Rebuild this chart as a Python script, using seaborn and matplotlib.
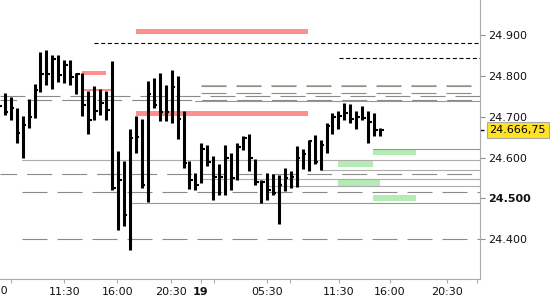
import matplotlib
matplotlib.use("Agg")
import matplotlib.pyplot as plt
import seaborn as sns
import pandas as pd

# ---------------- data (30-minute OHLC bars, bar index as x) ----------------
bar_idx = list(range(-1, 64))
highs = [24740.7, 24758.5, 24748.7, 24721.2, 24701.7, 24742.4, 24779.7, 24858.5, 24862.6,
         24850.5, 24850.5, 24838.3, 24838.3, 24805.8, 24805.8, 24763.4, 24774.8, 24767.5,
         24763.4, 24835.8, 24616.3, 24592.6, 24670.0, 24701.7, 24694.4, 24787.0, 24793.6,
         24806.6, 24777.3, 24813.9, 24799.2, 24713.9, 24591.9, 24561.9, 24635.1, 24630.9,
         24604.1, 24584.6, 24630.9, 24610.7, 24635.1, 24652.9, 24657.0, 24596.8, 24545.6,
         24561.9, 24559.5, 24557.8, 24574.1, 24567.5, 24628.5, 24621.2, 24643.1, 24655.3,
         24643.1, 24683.9, 24708.3, 24713.9, 24734.1, 24730.9, 24713.9, 24726.1, 24713.9,
         24709.7, 24671.7]
lows = [24711.4, 24704.1, 24691.9, 24636.6, 24600.0, 24671.7, 24696.8, 24759.5, 24777.3,
        24766.8, 24785.3, 24782.2, 24777.3, 24755.3, 24701.7, 24656.6, 24691.9, 24704.1,
        24691.9, 24521.2, 24423.6, 24433.4, 24373.1, 24612.2, 24525.3, 24490.2, 24720.5,
        24690.2, 24690.2, 24683.9, 24644.9, 24574.1, 24522.9, 24521.2, 24537.5, 24580.5,
        24495.1, 24507.3, 24507.3, 24521.2, 24545.6, 24618.7, 24568.3, 24531.7, 24488.7,
        24495.1, 24509.0, 24438.3, 24518.8, 24526.8, 24527.8, 24571.7, 24568.3, 24584.6,
        24570.0, 24612.2, 24657.8, 24669.2, 24691.9, 24685.3, 24669.2, 24691.9, 24636.6,
        24653.6, 24653.6]
closes = [24726.1, 24712.2, 24721.2, 24660.2, 24679.7, 24699.2, 24765.1, 24803.4, 24803.4,
          24840.0, 24801.7, 24826.1, 24797.5, 24803.4, 24728.5, 24691.9, 24713.9, 24732.2,
          24716.3, 24525.0, 24545.6, 24458.5, 24648.0, 24651.2, 24533.4, 24754.6, 24728.5,
          24712.2, 24712.2, 24773.1, 24694.4, 24586.3, 24545.6, 24531.7, 24620.5, 24590.2,
          24553.6, 24553.6, 24598.5, 24549.7, 24626.8, 24647.3, 24598.5, 24541.4, 24541.4,
          24521.2, 24513.1, 24533.4, 24551.2, 24553.6, 24598.5, 24608.3, 24640.7, 24590.2,
          24630.9, 24677.3, 24700.0, 24701.7, 24708.3, 24693.6, 24698.5, 24696.1, 24687.8,
          24667.5, 24666.75]
last_price = 24666.75
last_label = "24.666,75"

# x axis ticks (bar index positions) and labels
xtick_pos = [1.0, 10.0, 18.9, 27.9, 32.9, 35.2, 44.0, 47.9, 56.1, 64.6, 74.2, 79.2]
xtick_labels = ["", "11:30", "16:00", "20:30", "19", "", "05:30", "", "11:30", "16:00", "20:30", ""]
cut_label, cut_label_pos = "05:30", -2.13
ytick_vals = [24400, 24500, 24600, 24700, 24800, 24900]

XMIN, XMAX = -0.79, 79.75
YMIN, YMAX = 24303.4, 24984.6

# gray long-dash levels: price, start index, dash offset (pt)
gdash_price = [24750.0, 24740.7, 24774.1, 24757.0, 24559.5, 24517.0, 24401.0]
gdash_start = [XMIN, XMIN, 32.94, 32.94, XMIN, 2.85, 2.85]
gdash_offset = [0, 6, 0, 0, 6, 0, 0]
# orange level
orange_price, orange_start = 24776.6, 32.94
# solid gray levels
gsolid_price = [24593.6, 24569.2, 24546.8, 24530.5]
gsolid_start = [2.85, 53.02, 32.94, 44.01]
# thin green levels
green_price = [24737.5, 24488.7, 24621.2]
green_start = [31.93, 21.03, 61.8]
# black short-dash levels
black_price = [24879.0, 24842.4]
black_start = [14.98, 56.14]
# red zones: price centre, start, end, thickness
red_price = [24906.6, 24806.6, 24764.1, 24708.3]
red_start = [22.03, 12.97, 13.3, 22.03]
red_end = [50.89, 16.96, 17.8, 50.89]
red_thick = [12, 10, 5, 12]
# green zones
gz_price = [24612.7, 24585.3, 24538.8, 24501.0]
gz_start = [61.8, 55.9, 55.9, 61.8]
gz_end = [69.0, 61.8, 62.97, 69.0]
gz_thick = [15, 15, 15, 15]

# ---------------- drawing ----------------
sns.set_theme(style="white")
plt.rcParams["font.family"] = ["DejaVu Sans"]
plt.rcParams["lines.scale_dashes"] = False

df = pd.DataFrame({"i": bar_idx, "high": highs, "low": lows, "close": closes})

fig = plt.figure(figsize=(5.5, 3.0), dpi=100)
ax = fig.add_axes([0.0, 21 / 300, 480 / 550, 279 / 300])
ax.set_facecolor("white")

RED = "#ff8f8f"
GREENZ = "#b5ebb5"
GREENL = "#5cbf5c"
GRAYD = "#8a8a8a"
GRAYS = "#acacac"

for p, s, e, t in zip(red_price, red_start, red_end, red_thick):
    ax.barh(p, e - s, left=s, height=t, color=RED, lw=0, zorder=1)
for p, s, e, t in zip(gz_price, gz_start, gz_end, gz_thick):
    ax.barh(p, e - s, left=s, height=t, color=GREENZ, lw=0, zorder=1)

for p, s, o in zip(gdash_price, gdash_start, gdash_offset):
    ax.plot([s, XMAX], [p, p], color=GRAYD, lw=0.8, linestyle=(o, (18, 7.2)), zorder=2)
ax.plot([orange_start, XMAX], [orange_price, orange_price], color="#f0aa3c", lw=0.8,
        linestyle=(0, (18, 7.2)), zorder=2)
for p, s in zip(gsolid_price, gsolid_start):
    ax.plot([s, XMAX], [p, p], color=GRAYS, lw=0.8, zorder=2)
for p, s in zip(green_price, green_start):
    ax.plot([s, XMAX], [p, p], color=GREENL, lw=0.8, zorder=2)
for p, s in zip(black_price, black_start):
    ax.plot([s, XMAX], [p, p], color="black", lw=0.8, linestyle=(0, (2.9, 1.9)), zorder=2)

# OHLC bars
ax.vlines(df["i"], df["low"], df["high"], color="black", lw=2.2, zorder=4)
ax.hlines(df["close"], df["i"], df["i"] + 0.6, color="black", lw=1.5, zorder=4)

ax.set_xlim(XMIN, XMAX)
ax.set_ylim(YMIN, YMAX)

# axes styling
for side in ["top", "left"]:
    ax.spines[side].set_visible(False)
for side in ["right", "bottom"]:
    ax.spines[side].set_color("#ababab")
    ax.spines[side].set_linewidth(0.8)
ax.yaxis.tick_right()
ax.set_yticks(ytick_vals)
ax.set_yticklabels([f"{v / 1000:.3f}" for v in ytick_vals])
ax.set_xticks(xtick_pos)
ax.set_xticklabels(xtick_labels)
ax.tick_params(axis="y", which="major", length=3.6, width=0.8, color="#8c8c8c",
               labelsize=8, labelcolor="#111111", pad=2.5, right=True, left=False)
ax.tick_params(axis="x", which="major", length=3, width=0.8, color="#ababab",
               labelsize=8, labelcolor="#111111", pad=2.5, bottom=True)
for lab in ax.get_yticklabels():
    if lab.get_text() == "24.500":
        lab.set_fontweight("bold")
for lab in ax.get_xticklabels():
    if lab.get_text() == "19":
        lab.set_fontweight("bold")
ax.grid(False)

# last price marker on axis
ax.set_yticks([last_price], minor=True)
ax.tick_params(axis="y", which="minor", length=3, width=1.0, color="black",
               right=True, left=False, labelright=False)
ax.annotate(last_label, xy=(1, last_price), xycoords=("axes fraction", "data"),
            xytext=(6.8, 0), textcoords="offset points", ha="left", va="center",
            fontsize=8, color="black",
            bbox=dict(boxstyle="square,pad=0.25", fc="#ffe226", ec="#a8a8a8", lw=0.8),
            annotation_clip=False)

# partially visible first time label
ax.annotate(cut_label, xy=(cut_label_pos, 0), xycoords=("data", "axes fraction"),
            xytext=(0, -5.4), textcoords="offset points", ha="center", va="top",
            fontsize=8, color="#111111", annotation_clip=False)

fig.savefig("out.png", dpi=100)
